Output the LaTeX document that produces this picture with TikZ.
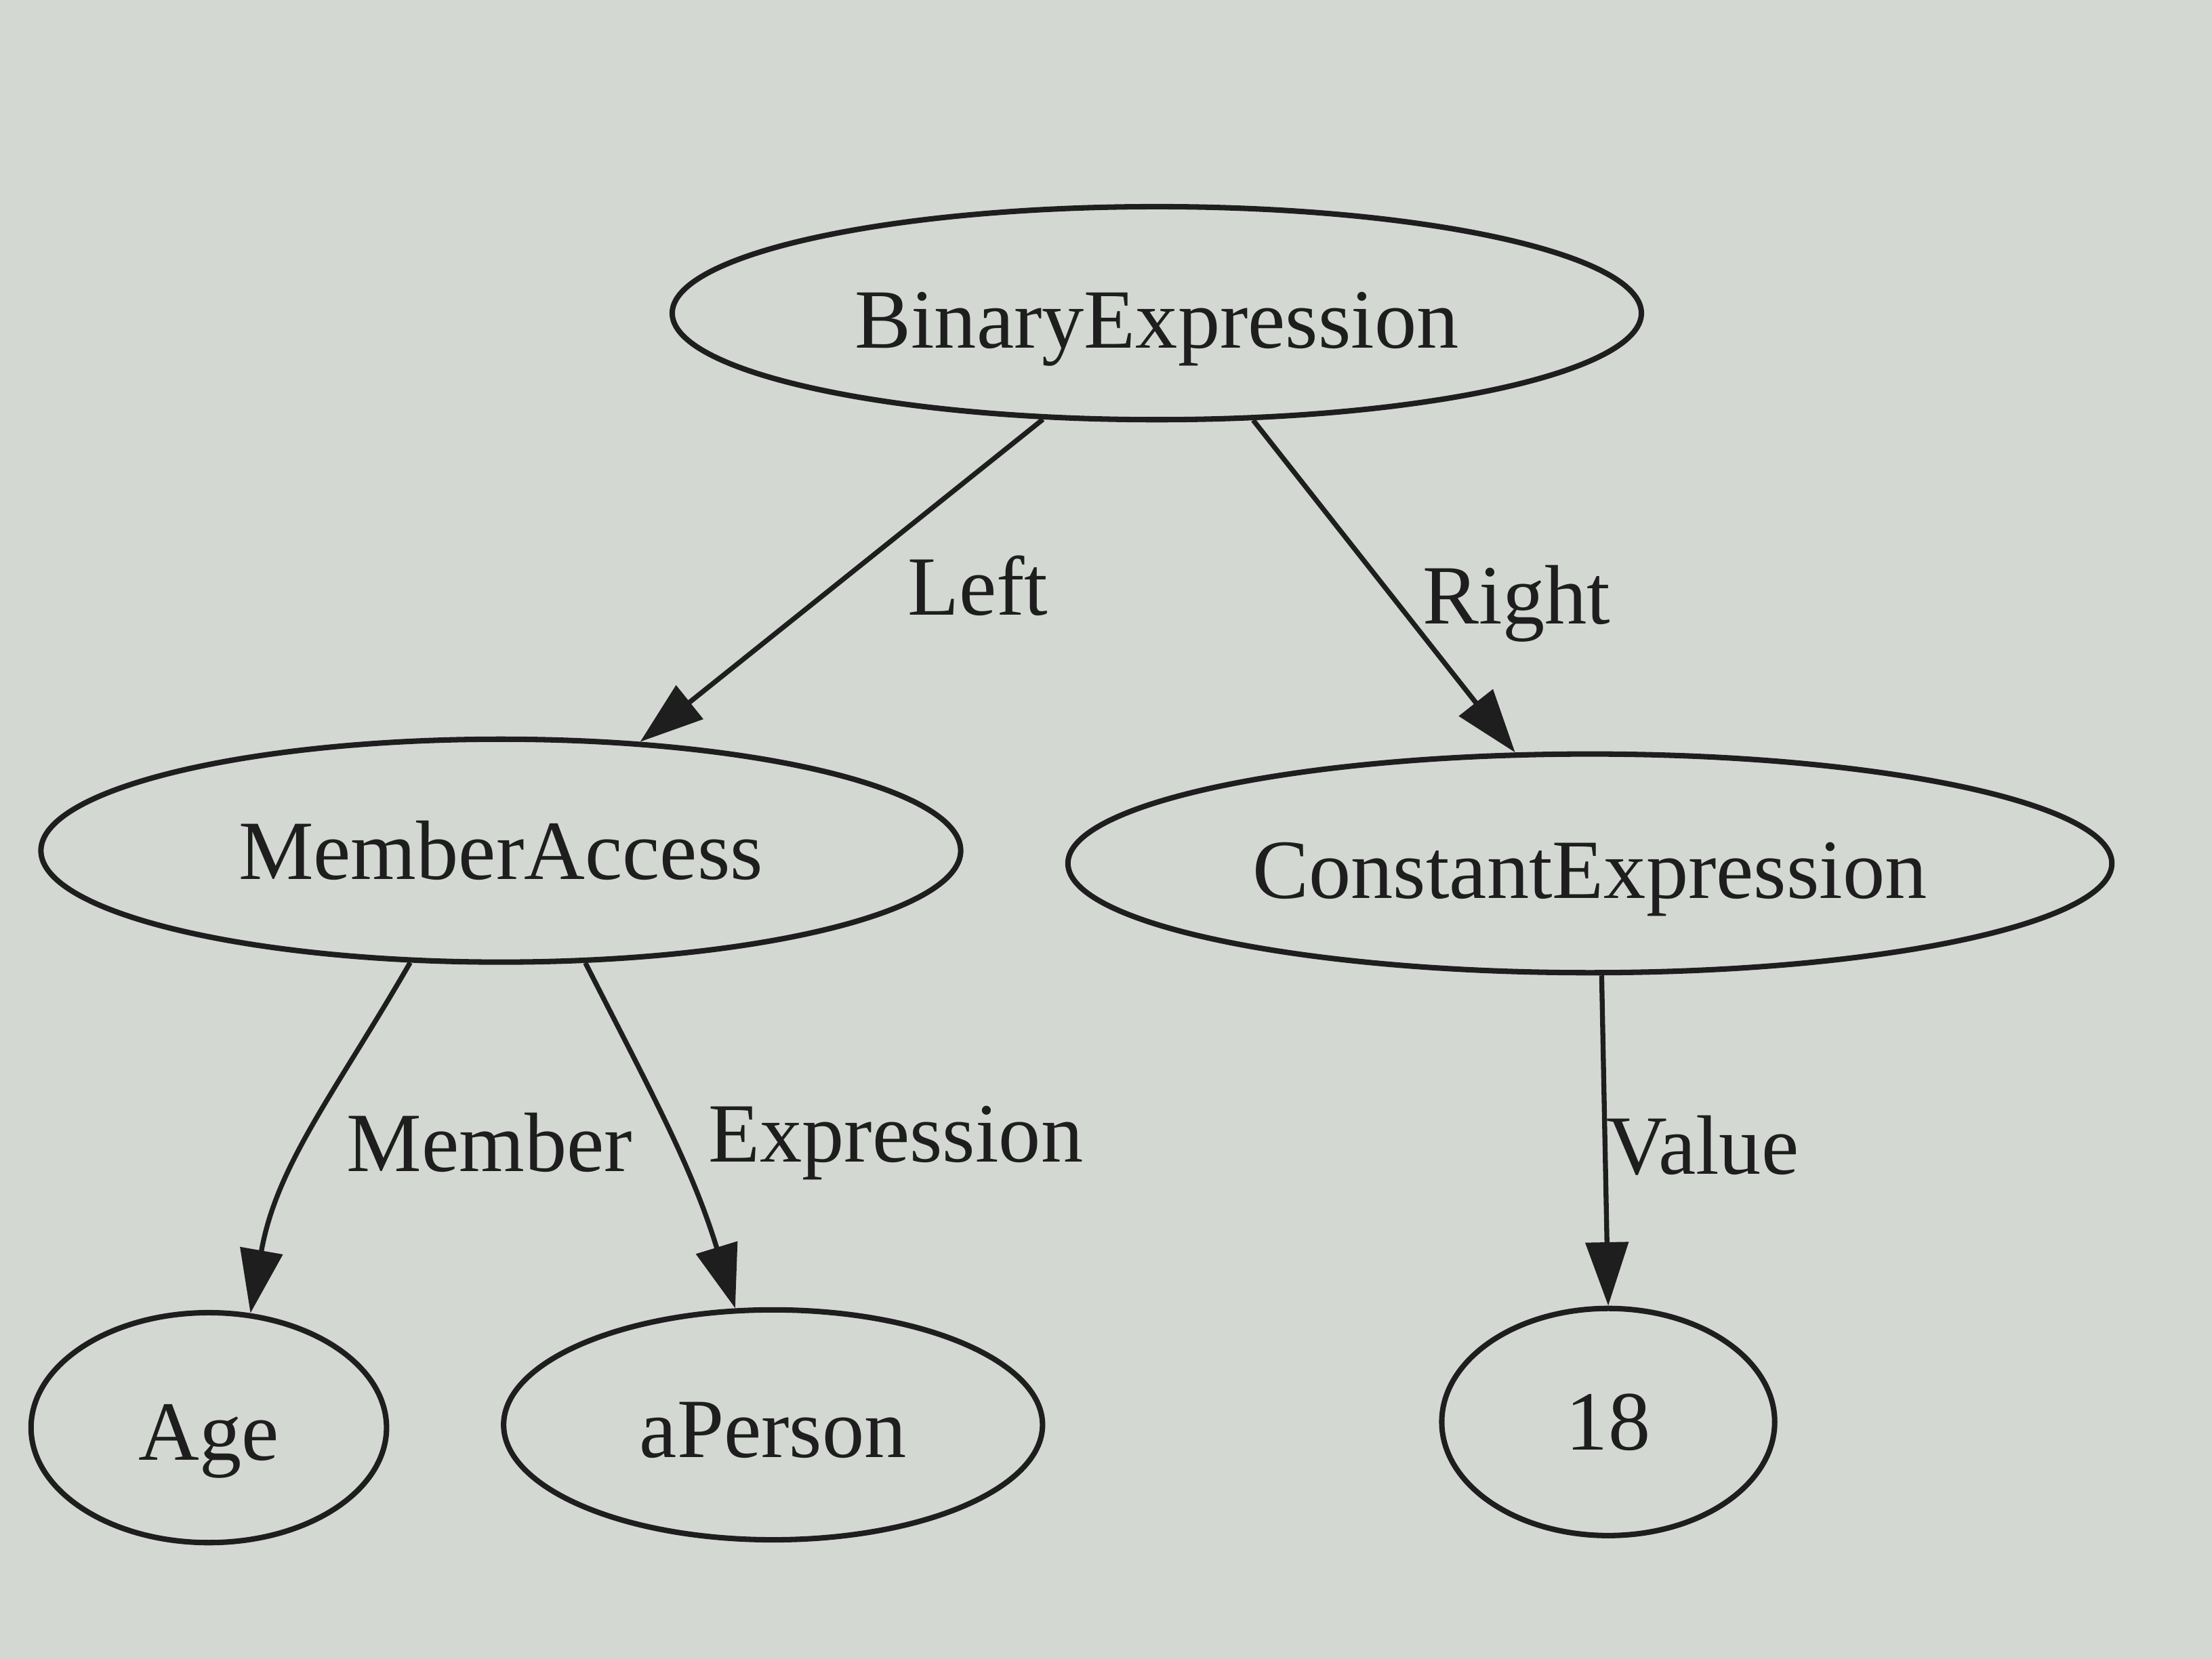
\documentclass[tikz,border=0pt]{standalone}
\usepackage{fontspec}
\setmainfont{Liberation Serif}
\usetikzlibrary{shapes.geometric,arrows.meta}
\definecolor{paper}{RGB}{212,216,211}
\definecolor{ink}{RGB}{30,30,30}
\tikzset{
  gnode/.style={ellipse,draw=ink,line width=1.1pt,inner sep=0pt,text=ink,font=\fontsize{17}{20}\selectfont},
  lowtext/.style={text height=18pt,text depth=4pt},
  midtext/.style={text height=17pt,text depth=4pt},
  gedge/.style={draw=ink,line width=1pt,-{Triangle[length=0.45cm,width=0.3cm]}},
  elabel/.style={text=ink,font=\fontsize{17}{20}\selectfont,inner sep=0pt}
}
\begin{document}
\begin{tikzpicture}
\fill[paper] (0,0) rectangle (15.68,-11.76);
\useasboundingbox (0,0) rectangle (15.68,-11.76);
\node[gnode,lowtext,minimum width=6.87cm,minimum height=1.51cm] (be) at (8.20,-2.22) {BinaryExpression};
\node[gnode,minimum width=6.52cm,minimum height=1.58cm] (ma) at (3.55,-6.03) {MemberAccess};
\node[gnode,lowtext,minimum width=7.40cm,minimum height=1.55cm] (ce) at (11.27,-6.12) {ConstantExpression};
\node[gnode,midtext,minimum width=2.52cm,minimum height=1.63cm] (age) at (1.48,-10.12) {Age};
\node[gnode,midtext,minimum width=3.82cm,minimum height=1.63cm] (ap) at (5.48,-10.10) {aPerson};
\node[gnode,minimum width=2.36cm,minimum height=1.61cm] (n18) at (11.40,-10.08) {18};
\draw[gedge] (be.223) -- (ma.38);
\draw[gedge] (be.312) -- (ce.124);
\draw[gedge] (ma.231) to[out=240,in=80] (age.70);
\draw[gedge] (ma.307) to[out=297,in=107] (ap.108);
\draw[gedge] (ce.-84) -- (n18.north);
\node[elabel] (lleft) at (6.93,-4.15) {Left};
\node[elabel] (lright) at (10.75,-4.28) {Right};
\node[elabel] (lmember) at (3.47,-8.10) {Member};
\node[elabel] (lexpr) at (6.35,-8.10) {Expression};
\node[elabel] (lvalue) at (12.07,-8.12) {Value};
\end{tikzpicture}
\end{document}
